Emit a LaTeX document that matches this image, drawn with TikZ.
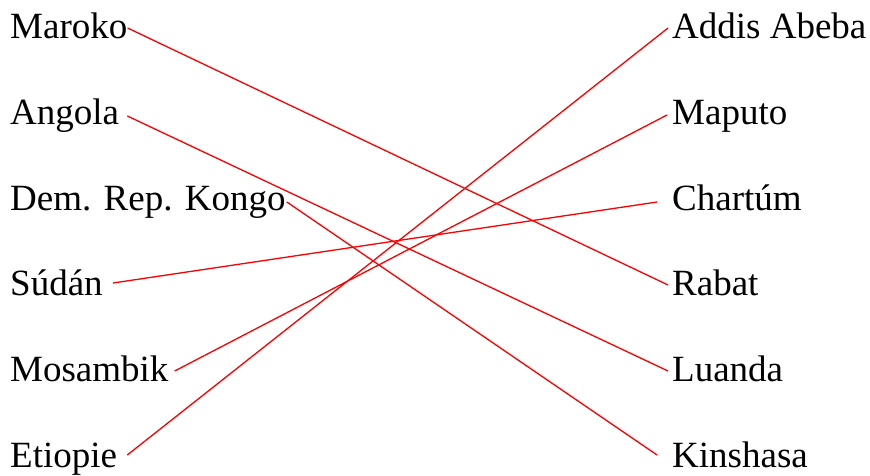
\documentclass[tikz,border=0pt]{standalone}
\usepackage{fontspec}
\setmainfont{Liberation Serif}
\usetikzlibrary{calc}
\begin{document}
\begin{tikzpicture}[x=1pt,y=-1pt,
  lbl/.style={inner sep=0pt,anchor=base west,font=\fontsize{37}{40}\selectfont},
  conn/.style={draw=red,line width=1.3pt}]
\useasboundingbox (0,0) rectangle (870,475);
% left column
\node[lbl] (maroko) at (10,38) {Maroko};
\node[lbl] (angola) at (10,124) {Angola};
\node[lbl] (kongo) at (10,210) {Dem. Rep. Kongo};
\node[lbl] (sudan) at (10,295) {Súdán};
\node[lbl] (mosambik) at (10,381) {Mosambik};
\node[lbl] (etiopie) at (10,467) {Etiopie};
% right column
\node[lbl] (addis) at (672,38) {Addis Abeba};
\node[lbl] (maputo) at (672,124) {Maputo};
\node[lbl] (chartum) at (672,210) {Chartúm};
\node[lbl] (rabat) at (672,295) {Rabat};
\node[lbl] (luanda) at (672,381) {Luanda};
\node[lbl] (kinshasa) at (672,467) {Kinshasa};
% connectors
\draw[conn] ($(maroko.base east)+(0pt,10pt)$) -- ($(rabat.base west)+(-4pt,10pt)$);
\draw[conn] ($(angola.base east)+(8pt,8pt)$) -- ($(luanda.base west)+(-4pt,10pt)$);
\draw[conn] ($(kongo.base east)+(1pt,8pt)$) -- ($(kinshasa.base west)+(-15pt,12pt)$);
\draw[conn] ($(sudan.base east)+(10pt,12pt)$) -- ($(chartum.base west)+(-15pt,8pt)$);
\draw[conn] ($(mosambik.base east)+(6pt,10pt)$) -- ($(maputo.base west)+(-5pt,9pt)$);
\draw[conn] ($(etiopie.base east)+(10pt,12pt)$) -- ($(addis.base west)+(-4pt,10pt)$);
\end{tikzpicture}
\end{document}
